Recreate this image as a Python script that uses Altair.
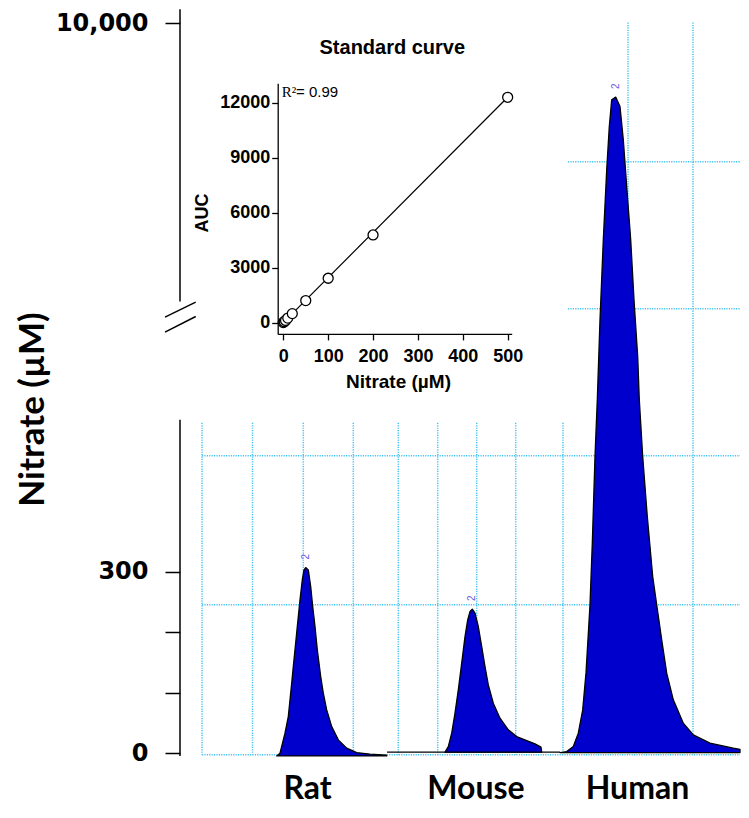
import altair as alt
import pandas as pd

# ---------------- chromatogram traces ----------------
# t: position along the composite trace, s: signal in display units (µM scale of the lower axis)
rat_t = [96.7, 100.0, 105.0, 108.3, 110.0, 111.7, 113.3, 115.3, 117.3, 120.0, 122.3, 124.0, 125.7,
         128.3, 130.7, 132.7, 135.0, 137.3, 140.7, 143.3, 146.7, 151.7, 158.3, 166.7, 176.7, 190.0, 206.7]
rat_s = [-4.5, 0.0, 33.0, 60.5, 88.1, 115.6, 143.1, 176.1, 209.2, 253.3, 286.3, 302.8, 306.6,
         302.8, 275.2, 242.2, 209.2, 170.7, 126.5, 99.1, 71.5, 43.9, 22.0, 8.3, 1.0, -1.7, -3.3]

mouse_t = [265.0, 268.3, 271.7, 275.0, 278.3, 281.7, 285.0, 287.7, 290.0, 292.3, 295.0, 298.3, 301.7,
           305.0, 308.3, 313.3, 320.0, 328.3, 336.7, 346.7, 355.0, 361.0, 361.7]
mouse_s = [1.7, 10.9, 33.0, 66.1, 104.6, 148.7, 192.6, 220.2, 233.9, 237.9, 231.3, 209.2, 176.1,
           143.1, 112.8, 82.6, 57.8, 38.5, 27.4, 20.8, 15.4, 9.9, 1.7]

human_t = [380.0, 386.7, 393.3, 398.3, 402.7, 406.0, 410.0, 412.3, 415.0, 417.3, 420.0, 423.3, 426.7,
           429.3, 431.7, 435.7, 440.0, 443.3, 446.7, 450.7, 454.0, 457.7, 459.3, 462.7, 467.3, 472.7,
           476.7, 481.7, 486.7, 493.3, 503.3, 513.3, 530.0, 553.3, 560.0]
human_s = [1.0, 2.6, 10.9, 33.0, 71.5, 132.6, 245.0, 346.9, 490.0, 583.7, 715.8, 848.0, 963.6,
           1035.2, 1079.3, 1083.8, 1068.2, 1013.2, 936.1, 848.0, 748.9, 655.2, 583.7, 490.0, 390.9, 291.8,
           245.0, 187.2, 132.2, 88.1, 49.6, 30.2, 16.5, 8.3, 6.3]

peak_names = ["Rat", "Mouse", "Human"]
peak_baselines = [-4.5, 1.7, 1.0]
category_t = [127, 295.5, 457]

baseline_t = [207, 380]
baseline_s = [1.7, 1.7]

# grid of the chromatogram panels
vgrid_t = [22, 72.5, 123.3, 173.3, 218.3, 257.7, 296.7, 335.7, 383, 448, 513]
vgrid_top = [545.7, 545.7, 545.7, 545.7, 545.7, 545.7, 545.7, 545.7, 545.7, 1207, 1207]
vgrid_bottom = [-2.8] * 11
hgrid_s = [491.2, 245.0, -2.8, 977.2, 734.3]
hgrid_from = [22, 22, 22, 388, 388]
hgrid_to = [560, 560, 560, 560, 560]

# broken y axis
axis_seg_top = [1229, 550.6]
axis_seg_bottom = [746, -4.5]
break_t = [-15, 15.7, -15, 15.7]
break_s = [720.3, 745.1, 695.5, 721.3]
break_id = [1, 1, 2, 2]
y_tick_values = [0, 100, 200, 300, 1206]

# ---------------- standard curve (inset) ----------------
std_nitrate = [0, 2, 5, 10, 20, 50, 100, 200, 500]
std_auc = [0, 50, 120, 245, 490, 1200, 2420, 4780, 12290]
fit_nitrate = [0, 500]
fit_auc = [0, 12290]

# ---------------- tables ----------------
rows = []
for name, tt, ss, b in zip(peak_names, [rat_t, mouse_t, human_t], [rat_s, mouse_s, human_s], peak_baselines):
    for a, c in zip(tt, ss):
        rows.append({"peak": name, "t": a, "s": c, "base": b})
peaks = pd.DataFrame(rows)

apex = peaks.loc[peaks.groupby("peak")["s"].idxmax()].copy()
apex["label_s"] = apex["s"] + 18
apex["label"] = "2"

vgrid = pd.DataFrame({"t": vgrid_t, "top": vgrid_top, "bottom": vgrid_bottom})
hgrid = pd.DataFrame({"s": hgrid_s, "t1": hgrid_from, "t2": hgrid_to})
axis_segs = pd.DataFrame({"t": [0, 0], "top": axis_seg_top, "bottom": axis_seg_bottom})
breaks = pd.DataFrame({"t": break_t, "s": break_s, "id": break_id})
base_line = pd.DataFrame({"t": baseline_t, "s": baseline_s})

std = pd.DataFrame({"nitrate": std_nitrate, "auc": std_auc})
fit = pd.DataFrame({"nitrate": fit_nitrate, "auc": fit_auc})

# ---------------- main scales / axes ----------------
xs = alt.Scale(domain=[0, 560], nice=False, zero=False)
ys = alt.Scale(domain=[-8, 1231], nice=False, zero=False)

x_axis = alt.Axis(
    values=category_t,
    labelExpr="datum.value < 200 ? 'Rat' : (datum.value < 400 ? 'Mouse' : 'Human')",
    domain=False, ticks=False, tickSize=0, grid=False,
    labelFont="Lato", labelFontSize=32, labelFontWeight="bold", labelColor="black",
    labelPadding=15, labelFlush=False, labelOverlap=False, title="",
)
y_axis = alt.Axis(
    values=y_tick_values,
    labelExpr="datum.value == 1206 ? '10,000' : (datum.value == 300 ? '300' : (datum.value == 0 ? '0' : ''))",
    domain=False, grid=False, ticks=True, tickSize=15, tickWidth=1.5, tickColor="black",
    labelFont="DejaVu Sans", labelFontSize=24, labelFontWeight="bold", labelColor="black",
    labelPadding=17, labelOverlap=False, labelFlush=False,
    title="Nitrate (µM)", titleFont="Lato", titleFontSize=35, titleFontWeight="bold",
    titleColor="black", titlePadding=5, titleY=401,
)

GRID = "#45c3f2"

vgrid_layer = alt.Chart(vgrid).mark_rule(color=GRID, strokeWidth=1.5, strokeDash=[1.2, 1.2]).encode(
    x=alt.X("t:Q", scale=xs, axis=x_axis),
    y=alt.Y("top:Q", scale=ys, axis=y_axis),
    y2="bottom:Q",
)
hgrid_layer = alt.Chart(hgrid).mark_rule(color=GRID, strokeWidth=1.5, strokeDash=[1.2, 1.2]).encode(
    x=alt.X("t1:Q", scale=xs, axis=None),
    x2="t2:Q",
    y=alt.Y("s:Q", scale=ys, axis=None),
)
base_layer = alt.Chart(base_line).mark_line(color="black", strokeWidth=1.3).encode(
    x=alt.X("t:Q", scale=xs, axis=None),
    y=alt.Y("s:Q", scale=ys, axis=None),
)
peak_layer = alt.Chart(peaks).mark_area(color="#0000CC", stroke="black", strokeWidth=1.3,
                                        strokeJoin="round", opacity=1).encode(
    x=alt.X("t:Q", scale=xs, axis=None),
    y=alt.Y("s:Q", scale=ys, axis=None),
    y2="base:Q",
    detail="peak:N",
)
apex_layer = alt.Chart(apex).mark_text(color="#6a5ae0", font="Liberation Sans", fontSize=10,
                                       angle=270, baseline="middle", align="center").encode(
    x=alt.X("t:Q", scale=xs, axis=None),
    y=alt.Y("label_s:Q", scale=ys, axis=None),
    text="label:N",
)
axis_layer = alt.Chart(axis_segs).mark_rule(color="black", strokeWidth=1.5).encode(
    x=alt.X("t:Q", scale=xs, axis=None),
    y=alt.Y("top:Q", scale=ys, axis=None),
    y2="bottom:Q",
)
break_layer = alt.Chart(breaks).mark_line(color="black", strokeWidth=1.5).encode(
    x=alt.X("t:Q", scale=xs, axis=None),
    y=alt.Y("s:Q", scale=ys, axis=None),
    detail="id:N",
)

# ---------------- inset ----------------
ixs = alt.Scale(domain=[-12.5, 509], range=[97.7, 331.7], nice=False, zero=False)
iys = alt.Scale(domain=[-616, 13058], range=[325.9, 75.2], nice=False, zero=False)

ix_axis = alt.Axis(
    orient="bottom", offset=-424.1, values=[0, 100, 200, 300, 400, 500], format="d", grid=False,
    domainColor="black", domainWidth=1.3, tickColor="black", tickSize=6, tickWidth=1.3,
    labelFont="Liberation Sans", labelFontSize=18, labelFontWeight="bold", labelColor="black",
    labelPadding=8, labelFlush=False, labelOverlap=False,
    title="Nitrate (µM)", titleFont="Liberation Sans", titleFontSize=19, titleFontWeight="bold",
    titleColor="black", titlePadding=7, titleX=218,
)
iy_axis = alt.Axis(
    orient="left", offset=-97.7, values=[0, 3000, 6000, 9000, 12000], format="d", grid=False,
    domainColor="black", domainWidth=1.3, tickColor="black", tickSize=6, tickWidth=1.3,
    labelFont="Liberation Sans", labelFontSize=18, labelFontWeight="bold", labelColor="black",
    labelPadding=2, labelFlush=False, labelOverlap=False,
    title="AUC", titleFont="Liberation Sans", titleFontSize=18, titleFontWeight="bold",
    titleColor="black", titlePadding=8, titleY=204.6,
)

fit_layer = alt.Chart(fit).mark_line(color="black", strokeWidth=1.2).encode(
    x=alt.X("nitrate:Q", scale=ixs, axis=ix_axis),
    y=alt.Y("auc:Q", scale=iys, axis=iy_axis),
)
pts_layer = alt.Chart(std).mark_point(shape="circle", size=100, filled=False, color="black",
                                      fill="white", fillOpacity=1, strokeWidth=1.3, opacity=1).encode(
    x=alt.X("nitrate:Q", scale=ixs, axis=None),
    y=alt.Y("auc:Q", scale=iys, axis=None),
)
txt = pd.DataFrame({
    "nitrate": [242.9, -3.6, 28.3],
    "auc": [14967, 12600, 12600],
    "label": ["Standard curve", "R²", "= 0.99"],
})
title_layer = alt.Chart(txt.iloc[[0]]).mark_text(font="Liberation Sans", fontSize=20, fontWeight="bold",
                                                  color="black", align="center", baseline="middle").encode(
    x=alt.X("nitrate:Q", scale=ixs, axis=None),
    y=alt.Y("auc:Q", scale=iys, axis=None),
    text="label:N",
)
r_layer = alt.Chart(txt.iloc[[1]]).mark_text(font="Liberation Serif", fontSize=15, color="black",
                                              align="left", baseline="middle").encode(
    x=alt.X("nitrate:Q", scale=ixs, axis=None),
    y=alt.Y("auc:Q", scale=iys, axis=None),
    text="label:N",
)
v_layer = alt.Chart(txt.iloc[[2]]).mark_text(font="Liberation Sans", fontSize=15, color="black",
                                              align="left", baseline="middle").encode(
    x=alt.X("nitrate:Q", scale=ixs, axis=None),
    y=alt.Y("auc:Q", scale=iys, axis=None),
    text="label:N",
)

# every layer keeps its own (identically specified) scales; only two layers carry axes
chart = alt.layer(
    vgrid_layer, hgrid_layer, base_layer, peak_layer, apex_layer, axis_layer, break_layer,
    fit_layer, pts_layer, title_layer, r_layer, v_layer,
).resolve_scale(x="independent", y="independent").properties(
    width=560, height=750,
    padding={"left": 7, "top": 0, "right": 0, "bottom": 0},
    background="white",
).configure_view(strokeWidth=0)

chart.save("out.html", embed_options={"renderer": "svg", "actions": False})
